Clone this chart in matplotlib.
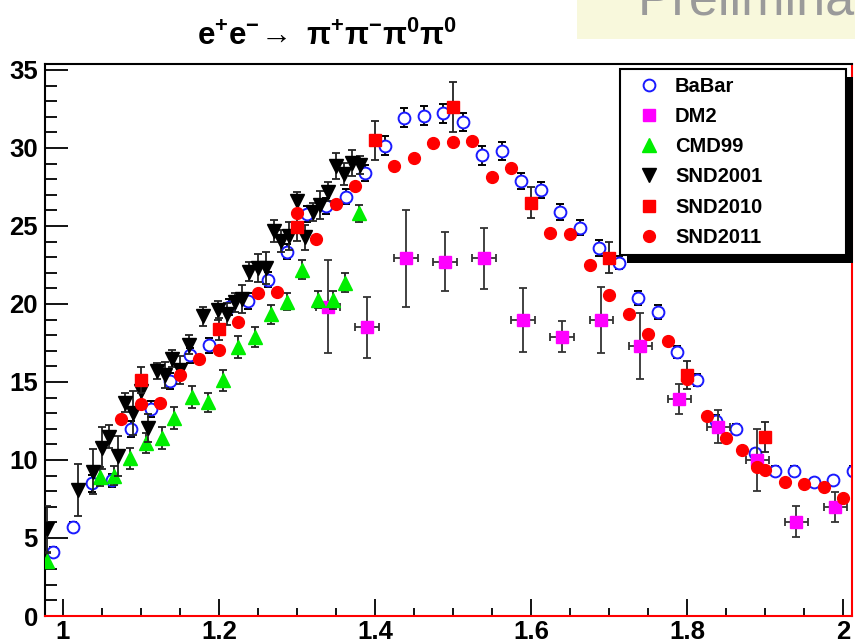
import matplotlib
matplotlib.use('Agg')
import matplotlib.pyplot as plt
from matplotlib.lines import Line2D
from matplotlib.patches import Rectangle
from matplotlib.ticker import MultipleLocator, FuncFormatter

plt.rcParams['font.family'] = ['Liberation Sans', 'DejaVu Sans']
plt.rcParams['font.weight'] = 'bold'
plt.rcParams['mathtext.fontset'] = 'custom'
plt.rcParams['mathtext.rm'] = 'Liberation Sans:bold'
plt.rcParams['mathtext.it'] = 'Liberation Sans:bold'
plt.rcParams['mathtext.bf'] = 'Liberation Sans:bold'

# cross section e+e- -> pi+ pi- pi0 pi0 (nb) vs energy (GeV)
babar_x = [0.9875, 1.0125, 1.0375, 1.0625, 1.0875, 1.1125, 1.1375, 1.1625, 1.1875, 1.2125,
           1.2375, 1.2625, 1.2875, 1.3125, 1.3375, 1.3625, 1.3875, 1.4125, 1.4375, 1.4625,
           1.4875, 1.5125, 1.5375, 1.5625, 1.5875, 1.6125, 1.6375, 1.6625, 1.6875, 1.7125,
           1.7375, 1.7625, 1.7875, 1.8125, 1.8375, 1.8625, 1.8875, 1.9125, 1.9375, 1.9625,
           1.9875, 2.0125]
babar_y = [4.1, 5.7, 8.5, 8.7, 12.0, 13.25, 15.06, 16.7, 17.35, 19.8,
           20.2, 21.56, 23.35, 25.77, 26.28, 26.88, 28.38, 30.15, 31.94, 32.07,
           32.22, 31.67, 29.53, 29.8, 27.9, 27.29, 25.88, 24.9, 23.57, 22.65,
           20.36, 19.47, 16.92, 15.13, 12.5, 11.99, 10.43, 9.32, 9.3, 8.57,
           8.7, 9.3]
babar_err = [0.3, 0.3, 0.55, 0.4, 0.5, 0.5, 0.5, 0.5, 0.5, 0.5,
             0.5, 0.5, 0.5, 0.5, 0.5, 0.5, 0.5, 0.6, 0.6, 0.6,
             0.6, 0.6, 0.6, 0.6, 0.5, 0.5, 0.5, 0.5, 0.5, 0.4,
             0.45, 0.45, 0.4, 0.4, 0.4, 0.3, 0.3, 0.3, 0.3, 0.3,
             0.3, 0.3]

dm2_x = [1.34, 1.39, 1.44, 1.49, 1.54, 1.59, 1.64, 1.69, 1.74, 1.79, 1.84, 1.89, 1.94, 1.99]
dm2_y = [19.83, 18.5, 22.93, 22.7, 22.93, 18.97, 17.9, 18.97, 17.3, 13.89, 12.14, 10.0, 6.05, 7.0]
dm2_err = [3.0, 1.97, 3.1, 1.9, 1.95, 2.04, 1.0, 2.1, 2.1, 0.97, 1.05, 2.0, 0.98, 0.96]
dm2_xerr = 0.015

cmd_x = [0.980, 1.047, 1.065, 1.086, 1.106, 1.127, 1.143, 1.165, 1.186, 1.205,
         1.225, 1.246, 1.267, 1.287, 1.306, 1.327, 1.346, 1.362, 1.380]
cmd_y = [3.55, 8.93, 9.0, 10.1, 11.1, 11.4, 12.7, 14.05, 13.7, 15.1,
         17.26, 17.9, 19.33, 20.15, 22.2, 20.26, 20.26, 21.37, 25.8]
cmd_err = [0.5, 0.6, 0.6, 0.65, 0.65, 0.7, 0.7, 0.7, 0.6, 0.65,
           0.7, 0.65, 0.6, 0.55, 0.6, 0.55, 0.6, 0.6, 0.55]

snd01_x = [0.979, 1.019, 1.039, 1.050, 1.059, 1.070, 1.080, 1.090, 1.100, 1.109,
           1.120, 1.131, 1.140, 1.150, 1.161, 1.180, 1.199, 1.210, 1.220, 1.230,
           1.239, 1.250, 1.260, 1.270, 1.280, 1.290, 1.300, 1.310, 1.320, 1.330,
           1.340, 1.350, 1.360, 1.370, 1.381]
snd01_y = [5.58, 8.08, 9.25, 10.75, 11.5, 10.26, 13.67, 13.03, 14.42, 12.07,
           15.7, 15.45, 16.5, 15.77, 17.4, 19.2, 19.6, 19.35, 20.1, 20.3,
           22.07, 22.3, 22.3, 24.7, 24.05, 24.36, 26.6, 24.27, 25.9, 26.35,
           27.2, 28.85, 28.35, 29.03, 28.9]
snd01_err = [1.5, 1.65, 1.45, 1.35, 0.75, 1.3, 0.6, 1.4, 0.9, 0.9,
             0.5, 0.85, 0.55, 0.9, 0.6, 0.6, 0.6, 0.7, 0.6, 0.9,
             0.6, 0.9, 1.0, 0.7, 0.7, 0.9, 0.6, 0.8, 0.6, 0.9,
             0.6, 0.85, 0.7, 0.85, 0.6]

snd10_x = [1.10, 1.20, 1.30, 1.40, 1.50, 1.60, 1.70, 1.80, 1.90]
snd10_y = [15.13, 18.4, 24.96, 30.5, 32.6, 26.5, 22.97, 15.45, 11.5]
snd10_err = [0.85, 0.7, 0.9, 1.25, 1.6, 1.0, 1.0, 0.9, 0.96]

snd11_x = [1.075, 1.100, 1.125, 1.150, 1.175, 1.200, 1.225, 1.250, 1.275, 1.300,
           1.325, 1.350, 1.375, 1.425, 1.450, 1.475, 1.500, 1.525, 1.550, 1.575,
           1.625, 1.650, 1.675, 1.700, 1.725, 1.750, 1.775, 1.800, 1.825, 1.850,
           1.870, 1.890, 1.900, 1.925, 1.950, 1.975, 2.000]
snd11_y = [12.6, 13.6, 13.63, 15.45, 16.47, 17.05, 18.87, 20.68, 20.75, 25.8,
           24.17, 26.4, 27.56, 28.87, 29.38, 30.32, 30.38, 30.45, 28.12, 28.7,
           24.57, 24.47, 22.5, 20.58, 19.36, 18.06, 17.63, 15.17, 12.84, 11.39,
           10.64, 9.57, 9.36, 8.6, 8.44, 8.25, 7.54]

labels = ['BaBar', 'DM2', 'CMD99', 'SND2001', 'SND2010', 'SND2011']

fig = plt.figure(figsize=(8.55, 6.44), dpi=100)
ax = fig.add_axes([45/855, 28/644, 807/855, 552/644])

eb = dict(elinewidth=1.3, capsize=2.6, capthick=1.3, linestyle='none')
ax.errorbar(babar_x, babar_y, yerr=babar_err, marker='o', ms=8.5, mfc='white', mec='#1a1aff',
            mew=1.4, ecolor='black', zorder=2, **eb)
ax.errorbar(dm2_x, dm2_y, yerr=dm2_err, xerr=dm2_xerr, marker='s', ms=9, color='#ff00ff',
            ecolor='#333333', zorder=3, **eb)
ax.errorbar(cmd_x, cmd_y, yerr=cmd_err, marker='^', ms=9.5, color='#00ee00',
            ecolor='#222222', zorder=4, **eb)
ax.errorbar(snd01_x, snd01_y, yerr=snd01_err, marker='v', ms=9.5, color='black',
            ecolor='#222222', zorder=5, **eb)
ax.errorbar(snd10_x, snd10_y, yerr=snd10_err, marker='s', ms=9, color='#ff0000',
            ecolor='#222222', zorder=6, **eb)
ax.plot(snd11_x, snd11_y, 'o', ms=8.5, color='#ff0000', zorder=7)

ax.set_xlim(0.977, 2.0115)
ax.set_ylim(0, 35.38)
ax.xaxis.set_major_locator(MultipleLocator(0.2))
ax.xaxis.set_minor_locator(MultipleLocator(0.05))
ax.yaxis.set_major_locator(MultipleLocator(5))
ax.yaxis.set_minor_locator(MultipleLocator(1))
ax.xaxis.set_major_formatter(FuncFormatter(lambda v, p: '%g' % round(v, 2)))
ax.tick_params(which='both', direction='in', top=False, right=False, width=1.3,
               labelsize=18.5)
ax.tick_params(axis='y', which='major', length=16.5, pad=5)
ax.tick_params(axis='y', which='minor', length=8.5)
ax.tick_params(axis='x', which='major', length=12, pad=3)
ax.tick_params(axis='x', which='minor', length=5.6)
for side in ['left', 'top']:
    ax.spines[side].set_linewidth(1.5)
    ax.spines[side].set_color('black')
for side in ['right', 'bottom']:
    ax.spines[side].set_linewidth(1.5)
    ax.spines[side].set_color('#ff0000')

handles = [
    Line2D([], [], ls='none', marker='o', ms=8.5, mfc='white', mec='#1a1aff', mew=1.4),
    Line2D([], [], ls='none', marker='s', ms=9, color='#ff00ff'),
    Line2D([], [], ls='none', marker='^', ms=9.5, color='#00ee00'),
    Line2D([], [], ls='none', marker='v', ms=9.5, color='black'),
    Line2D([], [], ls='none', marker='s', ms=9, color='#ff0000'),
    Line2D([], [], ls='none', marker='o', ms=8.5, color='#ff0000'),
]
leg = ax.legend(handles, labels, loc='upper left', mode='expand',
                bbox_to_anchor=(575/807, 0.0, 226/807, (616-69)/552),
                borderaxespad=0, fancybox=False, framealpha=1, edgecolor='black',
                prop={'size': 14.5, 'weight': 'bold'}, handlelength=2.1,
                handletextpad=0.25, labelspacing=0.56, borderpad=0.38)
leg.get_frame().set_linewidth(1.5)
leg.set_zorder(20)

# black drop shadow of the legend box
fig.canvas.draw()
bb = leg.get_frame().get_window_extent().transformed(ax.transAxes.inverted())
dx, dy = 7 / 807, 8 / 552
ax.add_patch(Rectangle((bb.x0 + dx, bb.y0 - dy), bb.width, bb.height, transform=ax.transAxes,
                       facecolor='black', edgecolor='none', zorder=19, clip_on=False))

fig.text(197/855, 1 - 36/644, r'$\mathbf{e^{+}e^{-}\!\rightarrow\ \pi^{+}\pi^{-}\pi^{0}\pi^{0}}$',
         fontsize=22.5, va='center', ha='left')

fig.patches.append(Rectangle((577/855, 1 - 39/644), 278/855, 39/644, transform=fig.transFigure,
                             facecolor='#f8f8dc', edgecolor='none', figure=fig))
fig.text(638/855, 1 - 15/644, 'Preliminary', fontsize=37.5, fontweight='normal',
         color='#9a9a9a', ha='left', va='baseline')

fig.savefig('out.png', dpi=100)
